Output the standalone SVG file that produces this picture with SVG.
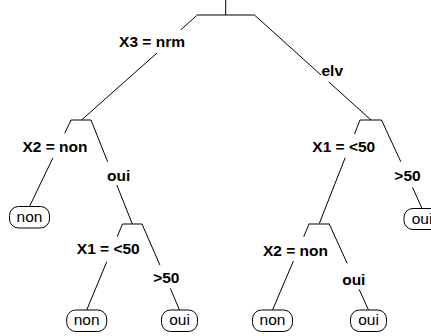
<svg xmlns="http://www.w3.org/2000/svg" width="431" height="336" viewBox="0 0 431 336">
<style>
.e{stroke:#000;stroke-width:1;fill:none}
.b{stroke:#000;stroke-width:1;fill:none}
.lab{font-family:"Liberation Sans",Arial,sans-serif;font-weight:bold;font-size:15.5px;fill:#000}
.leaf rect{fill:#fff;stroke:#000;stroke-width:1}
.leaf text{font-family:"Liberation Sans",Arial,sans-serif;font-size:15.5px;fill:#000;text-anchor:middle}
</style>
<rect width="431" height="336" fill="#fff"/>
<g id="connectors">
<line class="e" x1="225.7" y1="0" x2="225.7" y2="15"/>
<path class="e" d="M196.7,15.5 L181,29.7 M157,53 L81.5,120"/>
<path class="e" d="M255,15.5 L321,75 M328.8,82 L371,120"/>
<path class="e" d="M71,120 L64.7,133.3 M53,157.7 L29.5,206.5"/>
<path class="e" d="M91,120 L107.6,161.7 M116.8,185 L132.3,224"/>
<path class="e" d="M122.5,224 L117.2,236.7 M106.8,261.7 L86.7,310"/>
<path class="e" d="M142,224 L159.9,265 M170.3,288.3 L179.5,310"/>
<path class="e" d="M360,120 L354.5,134 M345.2,157.7 L319.3,223.5"/>
<path class="e" d="M381.5,120 L400.8,161.7 M412.5,187.3 L422,208.5"/>
<path class="e" d="M309.3,223.5 L303.7,236.7 M293.4,261 L272.5,310"/>
<path class="e" d="M329,223.5 L347.2,263.3 M359.1,289.3 L368.5,310"/>
</g>
<g id="n_root">
<line class="b" x1="196.7" y1="15" x2="255" y2="15"/>
<text class="lab" x="185" y="47" text-anchor="end">X3 = nrm</text>
<text class="lab" x="321.5" y="76">elv</text>
</g>
<g id="n_x2_left">
<line class="b" x1="71" y1="120" x2="91" y2="120"/>
<text class="lab" x="55" y="152" text-anchor="middle">X2 = non</text>
<text class="lab" x="118.7" y="181" text-anchor="middle">oui</text>
</g>
<g id="n_x1_right">
<line class="b" x1="360" y1="120" x2="381.5" y2="120"/>
<text class="lab" x="343.8" y="152" text-anchor="middle">X1 = &lt;50</text>
<text class="lab" x="407.5" y="181" text-anchor="middle">&gt;50</text>
</g>
<g id="n_x1_left">
<line class="b" x1="122.5" y1="224" x2="142" y2="224"/>
<text class="lab" x="108.3" y="254" text-anchor="middle">X1 = &lt;50</text>
<text class="lab" x="166.3" y="283" text-anchor="middle">&gt;50</text>
</g>
<g id="n_x2_right">
<line class="b" x1="309.3" y1="224" x2="329" y2="224"/>
<text class="lab" x="295.5" y="256" text-anchor="middle">X2 = non</text>
<text class="lab" x="353.8" y="285" text-anchor="middle">oui</text>
</g>
<g id="leaf1" class="leaf">
<rect x="9.5" y="206.5" width="40" height="21.5" rx="9"/>
<text x="29.5" y="221.5">non</text>
</g>
<g id="leaf2" class="leaf">
<rect x="66.7" y="310" width="40" height="21.5" rx="9"/>
<text x="86.7" y="325">non</text>
</g>
<g id="leaf3" class="leaf">
<rect x="161.5" y="310" width="36" height="21.5" rx="9"/>
<text x="179.5" y="325">oui</text>
</g>
<g id="leaf4" class="leaf">
<rect x="404" y="208.5" width="36" height="21" rx="9"/>
<text x="422" y="223.5">oui</text>
</g>
<g id="leaf5" class="leaf">
<rect x="252.5" y="310" width="40" height="21.5" rx="9"/>
<text x="272.5" y="325">non</text>
</g>
<g id="leaf6" class="leaf">
<rect x="350.5" y="310" width="36" height="21.5" rx="9"/>
<text x="368.5" y="325">oui</text>
</g>
</svg>
